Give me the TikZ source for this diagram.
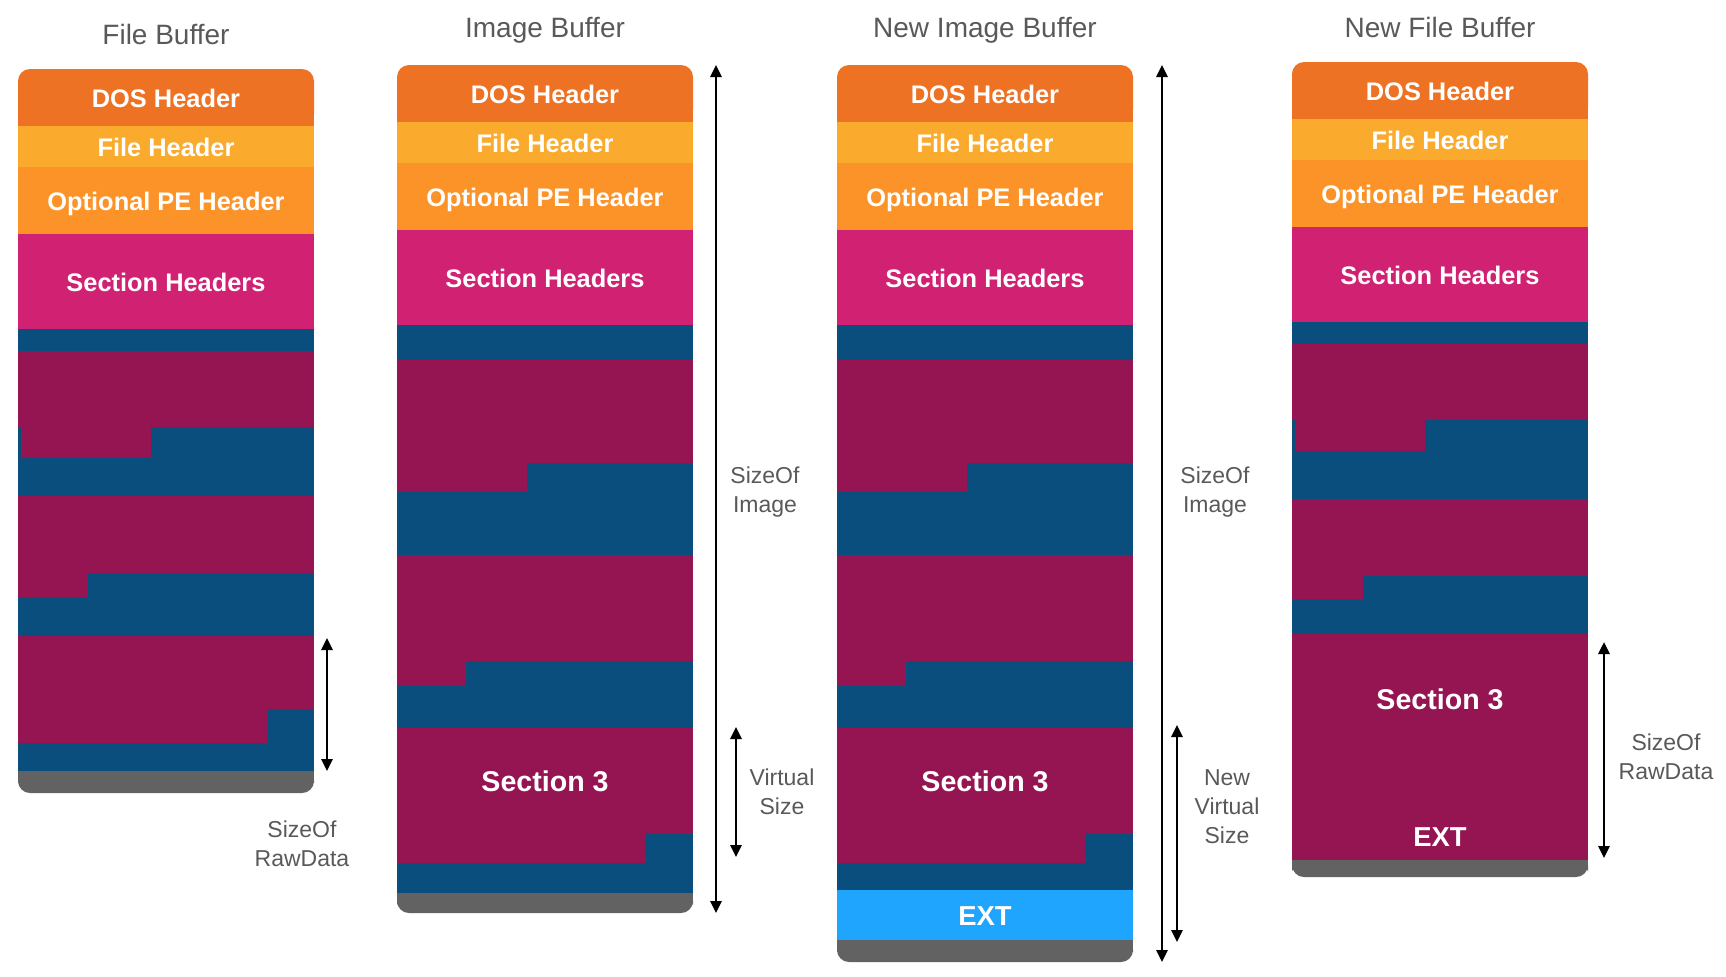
\documentclass[tikz,border=0pt]{standalone}
\usepackage{fontspec}
\setmainfont{Liberation Sans}
\usepackage{tikz}
\usetikzlibrary{arrows.meta, positioning}
\usepackage{xcolor}

\definecolor{dosorange}{HTML}{EE7223}
\definecolor{fileyellow}{HTML}{FAAB2E}
\definecolor{optorange}{HTML}{FB9329}
\definecolor{secpink}{HTML}{D02173}
\definecolor{rawmaroon}{HTML}{951452}
\definecolor{padblue}{HTML}{0A4E7D}
\definecolor{basegray}{HTML}{626262}
\definecolor{extblue}{HTML}{1FA5FD}
\definecolor{labelgray}{HTML}{595959}

% the four header bands of one buffer, drawn in local coordinates
\newcommand{\peheaders}[2]{%
  \fill[dosorange, rounded corners=6pt] (0,0) rectangle (296,57);
  \fill[dosorange] (0,20) rectangle (296,57);
  \fill[fileyellow] (0,57) rectangle (296,98);
  \fill[optorange] (0,98) rectangle (296,165);
  \fill[secpink] (0,165) rectangle (296,260);
  \node[title] (#1title) at (148,-35) {#2};
  \node[hdr] (#1dos)  at (148,28.5)  {DOS Header};
  \node[hdr] (#1file) at (148,77.5)  {File Header};
  \node[hdr] (#1opt)  at (148,131.5) {Optional PE Header};
  \node[hdr] (#1sec)  at (148,212.5) {Section Headers};
}

% gray foot of one buffer
\newcommand{\pefoot}[2]{%
  \fill[basegray, rounded corners=6pt] (0,#1) rectangle (296,#2);
  \fill[basegray] (0,#1) rectangle (296,#1+10);
}

\begin{document}
\begin{tikzpicture}[
  x=0.5pt, y=-0.5pt,
  title/.style={text=labelgray, font=\fontsize{14}{17}\selectfont},
  hdr/.style={text=white, text height=0.72em, text depth=0pt, yshift=-1.5pt,
    font=\bfseries\fontsize{12.7}{15}\selectfont},
  sec/.style={text=white, text height=0.72em, text depth=0pt, yshift=-1.5pt,
    font=\bfseries\fontsize{14.3}{17}\selectfont},
  ext/.style={text=white, text height=0.72em, text depth=0pt, yshift=-1.5pt,
    font=\bfseries\fontsize{13.7}{16}\selectfont},
  dimlabel/.style={text=labelgray, align=center,
    font=\fontsize{11.5}{14.5}\selectfont},
  dim/.style={{Triangle[length=6pt, width=5.5pt]}-{Triangle[length=6pt, width=5.5pt]},
    line width=1.3pt}
]
  \useasboundingbox (0,0) rectangle (1726,976);

  % File Buffer
  \begin{scope}[shift={(18,69)}]
    \fill[padblue] (0,260) rectangle (296,702);
    \fill[rawmaroon] (0,282) rectangle (296,358);
    \fill[rawmaroon] (3,358) rectangle (133,389);
    \fill[rawmaroon] (0,427) rectangle (296,504);
    \fill[rawmaroon] (0,504) rectangle (70,528);
    \fill[rawmaroon] (0,567) rectangle (296,640);
    \fill[rawmaroon] (0,640) rectangle (250,674);
    \pefoot{702}{724}
    \peheaders{fb}{File Buffer}
  \end{scope}

  % Image Buffer
  \begin{scope}[shift={(397,65)}]
    \fill[padblue] (0,260) rectangle (296,828);
    \fill[rawmaroon] (0,295) rectangle (296,398);
    \fill[rawmaroon] (0,398) rectangle (130,427);
    \fill[rawmaroon] (0,490) rectangle (296,596);
    \fill[rawmaroon] (0,596) rectangle (69,621);
    \fill[rawmaroon] (0,663) rectangle (296,769);
    \fill[rawmaroon] (0,769) rectangle (249,798);
    \pefoot{828}{848}
    \peheaders{ib}{Image Buffer}
    \node[sec] (ibsec3) at (148,716) {Section 3};
  \end{scope}

  % New Image Buffer
  \begin{scope}[shift={(837,65)}]
    \fill[padblue] (0,260) rectangle (296,825);
    \fill[rawmaroon] (0,295) rectangle (296,398);
    \fill[rawmaroon] (0,398) rectangle (130,427);
    \fill[rawmaroon] (0,490) rectangle (296,596);
    \fill[rawmaroon] (0,596) rectangle (69,621);
    \fill[rawmaroon] (0,663) rectangle (296,769);
    \fill[rawmaroon] (0,769) rectangle (249,798);
    \fill[extblue] (0,825) rectangle (296,875);
    \pefoot{875}{897}
    \peheaders{nib}{New Image Buffer}
    \node[sec] (nibsec3) at (148,716) {Section 3};
    \node[ext] (nibext) at (148,850) {EXT};
  \end{scope}

  % New File Buffer
  \begin{scope}[shift={(1292,62)}]
    \fill[padblue] (0,260) rectangle (296,798);
    \fill[rawmaroon] (0,282) rectangle (296,358);
    \fill[rawmaroon] (3,358) rectangle (133,389);
    \fill[rawmaroon] (0,437) rectangle (296,514);
    \fill[rawmaroon] (0,514) rectangle (71,537);
    \fill[rawmaroon] (0,572) rectangle (296,798);
    \pefoot{798}{815}
    \peheaders{nfb}{New File Buffer}
    \node[sec] (nfbsec3) at (148,637) {Section 3};
    \node[ext] (nfbext) at (148,774) {EXT};
  \end{scope}

  % Size markers
  \coordinate (fbrawtop) at (327,638);
  \coordinate (fbrawbot) at (327,771);
  \coordinate (ibimgtop) at (716,65);
  \coordinate (ibimgbot) at (716,913);
  \coordinate (ibvirttop) at (736,727);
  \coordinate (ibvirtbot) at (736,857);
  \coordinate (nibimgtop) at (1162,65);
  \coordinate (nibimgbot) at (1162,962);
  \coordinate (nibvirttop) at (1177,725);
  \coordinate (nibvirtbot) at (1177,942);
  \coordinate (nfbrawtop) at (1604,642);
  \coordinate (nfbrawbot) at (1604,858);

  \draw[dim] (fbrawtop) -- (fbrawbot);
  \draw[dim] (ibimgtop) -- (ibimgbot);
  \draw[dim] (ibvirttop) -- (ibvirtbot);
  \draw[dim] (nibimgtop) -- (nibimgbot);
  \draw[dim] (nibvirttop) -- (nibvirtbot);
  \draw[dim] (nfbrawtop) -- (nfbrawbot);

  \node[dimlabel] (fbrawlbl)   at (302,844)  {SizeOf\\RawData};
  \node[dimlabel] (ibimglbl)   at (765,492)  {SizeOf\\Image};
  \node[dimlabel] (ibvirtlbl)  at (782,792)  {Virtual\\Size};
  \node[dimlabel] (nibimglbl)  at (1215,492) {SizeOf\\Image};
  \node[dimlabel] (nibvirtlbl) at (1227,807) {New\\Virtual\\Size};
  \node[dimlabel] (nfbrawlbl)  at (1666,757) {SizeOf\\RawData};

\end{tikzpicture}
\end{document}
